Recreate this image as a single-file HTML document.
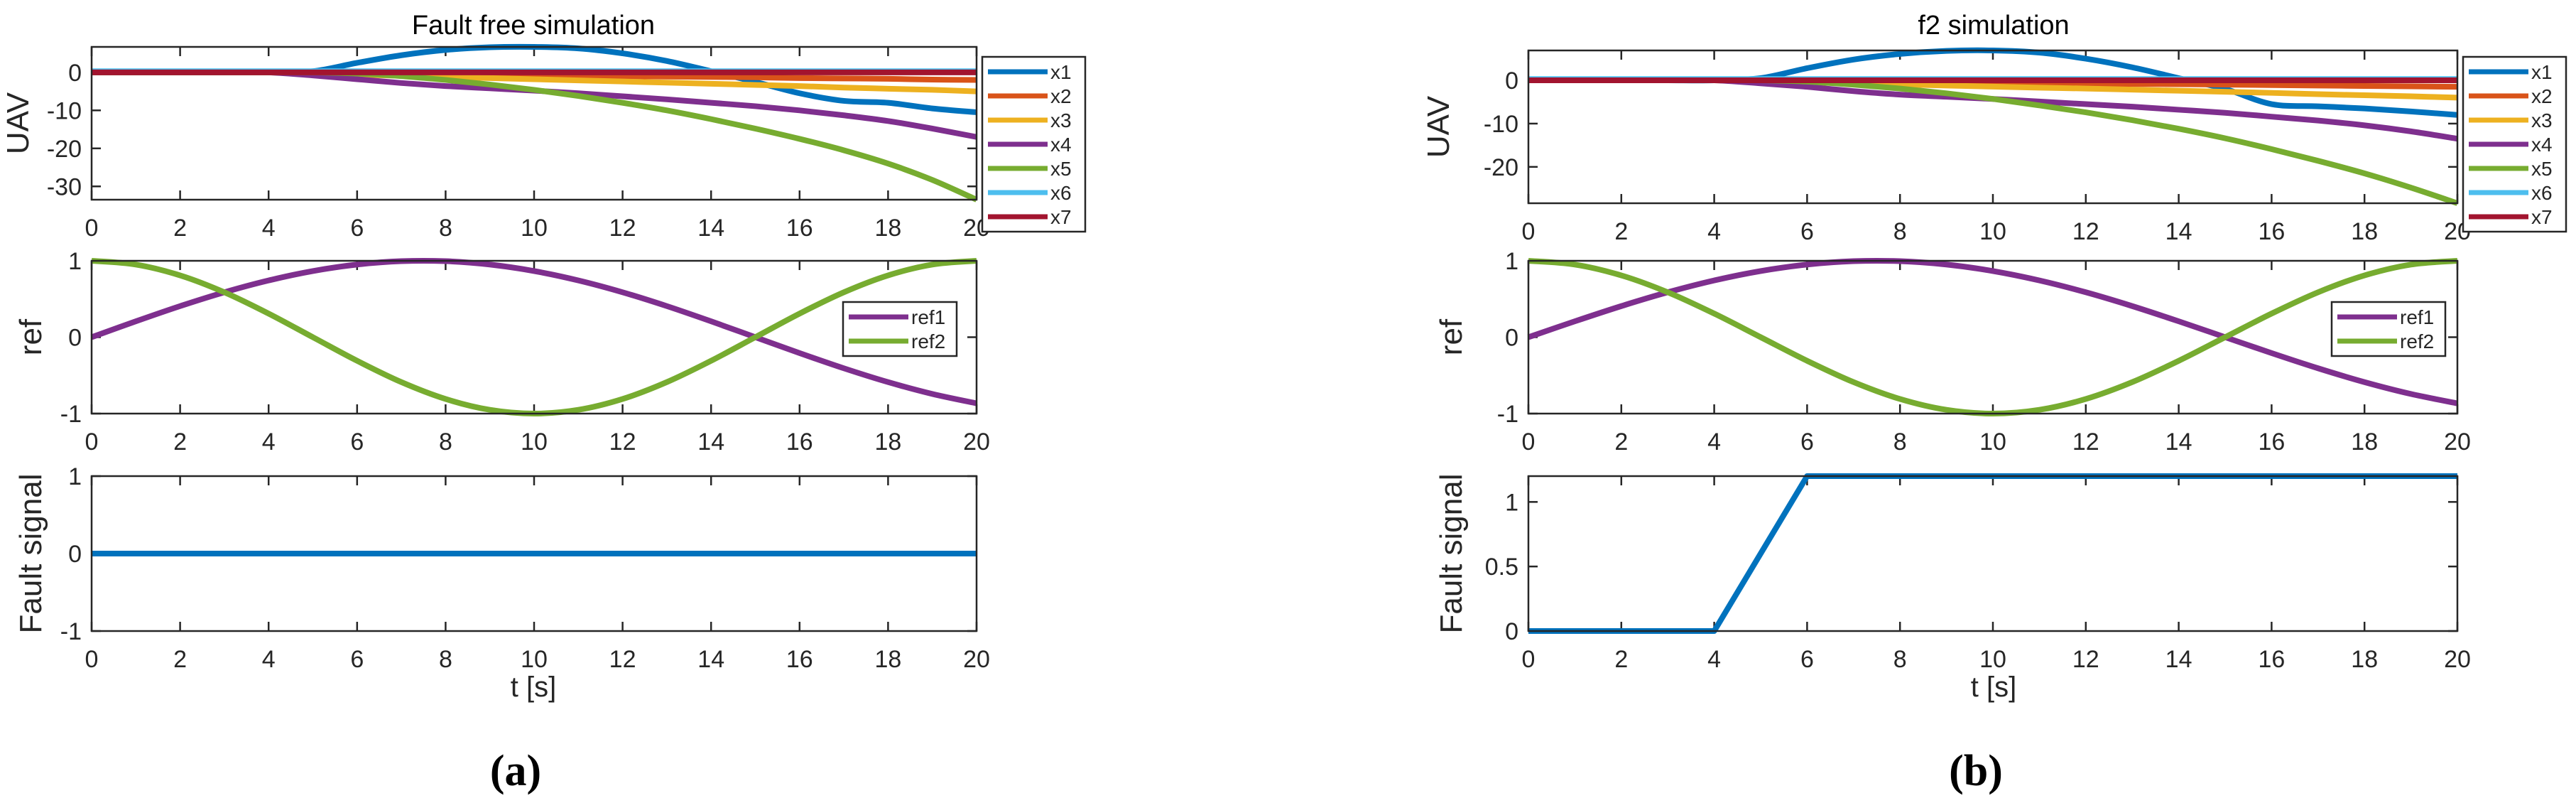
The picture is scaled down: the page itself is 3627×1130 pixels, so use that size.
<!DOCTYPE html>
<html><head><meta charset="utf-8"><style>
html,body{margin:0;padding:0;background:#fff;}
svg{display:block;font-family:"Liberation Sans",sans-serif;}
</style></head><body>
<svg id="fig" width="3627" height="1130" viewBox="0 0 3627 1130" xmlns="http://www.w3.org/2000/svg"></svg>
<script>
const T = [0,1,2,3,4,5,6,7,8,9,10,11,12,13,14,15,16,17,18,19,20];
const xTicks = [0,2,4,6,8,10,12,14,16,18,20];
const seriesNames = ['x1','x2','x3','x4','x5','x6','x7'];
const seriesColors = ['#0072BD','#D95319','#EDB120','#7E2F8E','#77AC30','#4DBEEE','#A2142F'];
const a_x1 = [0,0,0,0,0,0.3,2.5,4.5,5.9,6.6,6.7,6.3,5,3,0.3,-2.5,-5.5,-7.5,-8,-9.5,-10.5];
const a_x2 = [0,0,0,0,0,-0.2,-0.4,-0.5,-0.6,-0.7,-0.8,-0.9,-1,-1.1,-1.2,-1.3,-1.5,-1.6,-1.7,-1.9,-2];
const a_x3 = [0,0,0,0,0,-0.3,-0.6,-0.9,-1.2,-1.5,-1.8,-2.1,-2.4,-2.7,-3,-3.3,-3.6,-4,-4.3,-4.6,-5];
const a_x4 = [0,0,0,0,0,-0.8,-1.8,-2.8,-3.6,-4.2,-4.8,-5.5,-6.3,-7.1,-8,-8.9,-10,-11.3,-12.8,-14.8,-17];
const a_x5 = [0,0,0,0,0,0,-0.3,-1,-2,-3.2,-4.6,-6.2,-8,-10,-12.3,-14.8,-17.5,-20.5,-24,-28.3,-33.5];
const a_x6 = [0.3,0.3,0.3,0.3,0.3,0.3,0.3,0.3,0.3,0.3,0.3,0.3,0.3,0.3,0.3,0.3,0.3,0.3,0.3,0.3,0.3];
const a_x7 = [0,0,0,0,0,0,0,0,0,0,0,0,0,0,0,0,0,0,0,0,0];
const b_x1 = [0,0,0,0,0,0.5,2.8,4.8,6.1,6.8,6.9,6.4,5,3,0.5,-2,-5.5,-6,-6.5,-7.2,-8];
const b_x2 = [0,0,0,0,0,-0.15,-0.3,-0.4,-0.5,-0.55,-0.6,-0.7,-0.8,-0.85,-0.9,-1,-1.1,-1.2,-1.3,-1.4,-1.5];
const b_x3 = [0,0,0,0,0,-0.25,-0.5,-0.7,-0.95,-1.2,-1.45,-1.7,-1.9,-2.15,-2.4,-2.65,-2.9,-3.2,-3.45,-3.7,-4];
const b_x4 = [0,0,0,0,0,-0.7,-1.5,-2.5,-3.3,-3.8,-4.3,-4.9,-5.5,-6.1,-6.8,-7.5,-8.4,-9.3,-10.4,-11.8,-13.5];
const b_x5 = [0,0,0,0,0,0,-0.3,-1,-1.9,-3,-4.3,-5.8,-7.4,-9.2,-11.2,-13.4,-15.9,-18.6,-21.5,-24.8,-28.4];
const b_x6 = [0.3,0.3,0.3,0.3,0.3,0.3,0.3,0.3,0.3,0.3,0.3,0.3,0.3,0.3,0.3,0.3,0.3,0.3,0.3,0.3,0.3];
const b_x7 = [0,0,0,0,0,0,0,0,0,0,0,0,0,0,0,0,0,0,0,0,0];
const ref1 = [0,0.208,0.407,0.588,0.743,0.866,0.951,0.995,0.995,0.951,0.866,0.743,0.588,0.407,0.208,0,-0.208,-0.407,-0.588,-0.743,-0.866];
const ref2 = [1,0.951,0.809,0.588,0.309,0,-0.309,-0.588,-0.809,-0.951,-1,-0.951,-0.809,-0.588,-0.309,0,0.309,0.588,0.809,0.951,1];
const faultT = [0,4,6,20];
const faultA = [0,0,0,0];
const faultB = [0,0,1.2,1.2];
const uavTicksA = [0,-10,-20,-30];
const uavTicksB = [0,-10,-20];
const refTicks = [1,0,-1];
const faultTicksA = [1,0,-1];
const faultTicksB = [1,0.5,0];

const NS='http://www.w3.org/2000/svg';
const svg=document.getElementById('fig');
function el(tag,attrs,parent){const e=document.createElementNS(NS,tag);for(const k in attrs)e.setAttribute(k,attrs[k]);(parent||svg).appendChild(e);return e;}
function txt(s,attrs,parent){const e=el('text',attrs,parent);e.textContent=s;return e;}

function smoothPath(pts){
  if(pts.length<3){return 'M'+pts.map(p=>p.join(',')).join('L');}
  let d='M'+pts[0][0]+','+pts[0][1];
  for(let i=0;i<pts.length-1;i++){
    const p0=pts[Math.max(0,i-1)],p1=pts[i],p2=pts[i+1],p3=pts[Math.min(pts.length-1,i+2)];
    const c1=[p1[0]+(p2[0]-p0[0])/6,p1[1]+(p2[1]-p0[1])/6];
    const c2=[p2[0]-(p3[0]-p1[0])/6,p2[1]-(p3[1]-p1[1])/6];
    d+='C'+c1.join(',')+' '+c2.join(',')+' '+p2.join(',');
  }
  return d;
}

function axes(name,L,R,Tp,B,ymin,ymax,yticks,ylabel,ylabX){
  const g=el('g',{});
  
  
  const sx=v=>L+(v-0)/(20-0)*(R-L);
  const sy=v=>B-(v-ymin)/(ymax-ymin)*(B-Tp);
  xTicks.forEach(t=>{
    const x=sx(t);
    el('line',{x1:x,y1:B,x2:x,y2:B-13,stroke:'#262626','stroke-width':2.5},g);
    el('line',{x1:x,y1:Tp,x2:x,y2:Tp+13,stroke:'#262626','stroke-width':2.5},g);
    const lb=txt(String(t),{x:x,y:B+51,'font-size':34,'text-anchor':'middle',fill:'#262626'},g);
    
    
  });
  yticks.forEach(v=>{
    const y=sy(v);
    el('line',{x1:L,y1:y,x2:L+13,y2:y,stroke:'#262626','stroke-width':2.5},g);
    el('line',{x1:R,y1:y,x2:R-13,y2:y,stroke:'#262626','stroke-width':2.5},g);
    const lb=txt(String(v),{x:L-14,y:y+12,'font-size':34,'text-anchor':'end',fill:'#262626'},g);
    
    
  });
  const yl=txt(ylabel,{x:ylabX,y:(Tp+B)/2,'font-size':44,'text-anchor':'middle',fill:'#262626',transform:`rotate(-90 ${ylabX} ${(Tp+B)/2})`},g);
  
  
  return {g,sx,sy,L,R,Tp,B};
}
function frame(ax){
  el('rect',{x:ax.L,y:ax.Tp,width:ax.R-ax.L,height:ax.B-ax.Tp,fill:'none',stroke:'#262626','stroke-width':2.5},ax.g);
}
function series(ax,xs,ys,color,name,smooth){
  const pts=xs.map((t,i)=>[ax.sx(t),ax.sy(ys[i])]);
  const p=el('path',{d:smooth?smoothPath(pts):'M'+pts.map(q=>q.join(',')).join('L'),fill:'none',stroke:color,'stroke-width':8,'stroke-linejoin':'round'},ax.g);
  
  
}
function legend(name,x,y,w,rowH,names,colors,pad){
  const g=el('g',{});
  
  
  el('rect',{x:x,y:y,width:w,height:rowH*names.length+pad*2,fill:'#fff',stroke:'#262626','stroke-width':2.5},g);
  names.forEach((n,i)=>{
    const cy=y+pad+rowH*(i+0.5);
    el('line',{x1:x+8,y1:cy,x2:x+92,y2:cy,stroke:colors[i],'stroke-width':7},g);
    const t=txt(n,{x:x+96,y:cy+10,'font-size':28,fill:'#262626'},g);
    
    
  });
}

function panel(side,L,R,uavTB,uavRange,uavTicks,uavData,faultRange,faultTicks,faultData,titleStr,tag,titleX,legX,ylabX,refLegX){
  const ax1=axes(side+'-uav-axes',L,R,uavTB[0],uavTB[1],uavRange[0],uavRange[1],uavTicks,'UAV',ylabX);
  uavData.forEach((d,i)=>series(ax1,T,d,seriesColors[i],side+'-series-'+seriesNames[i],true));
  frame(ax1);
  legend(side+'-uav-legend',legX,80,145,34,seriesNames,seriesColors,4);
  const ax2=axes(side+'-ref-axes',L,R,367,582,-1,1,refTicks,'ref',ylabX+18);
  series(ax2,T,ref1,'#7E2F8E',side+'-ref1',true);
  series(ax2,T,ref2,'#77AC30',side+'-ref2',true);
  frame(ax2);
  legend(side+'-ref-legend',refLegX,425,160,34,['ref1','ref2'],['#7E2F8E','#77AC30'],4);
  const ax3=axes(side+'-fault-axes',L,R,670,888,faultRange[0],faultRange[1],faultTicks,'Fault signal',ylabX+18);
  series(ax3,faultT,faultData,'#0072BD',side+'-fault-signal',false);
  frame(ax3);
  const t1=txt(titleStr,{x:titleX,y:48,'font-size':38,'text-anchor':'middle',fill:'#000'});
  
  
  const t2=txt('t [s]',{x:titleX,y:980,'font-size':40,'text-anchor':'middle',fill:'#262626'});
  
  
  const t3=txt(tag,{x:titleX-25,y:1105,'font-size':62,'text-anchor':'middle',fill:'#000','font-family':'Liberation Serif, serif','font-weight':'bold'});
  
  
}

panel('a',129,1375,[66,281],[-33.5,6.7],uavTicksA,[a_x1,a_x2,a_x3,a_x4,a_x5,a_x6,a_x7],[-1,1],faultTicksA,faultA,'Fault free simulation','(a)',751,1383,40,1187);
panel('b',2152,3460,[71,286],[-28.4,6.9],uavTicksB,[b_x1,b_x2,b_x3,b_x4,b_x5,b_x6,b_x7],[0,1.2],faultTicksB,faultB,'f2 simulation','(b)',2807,3468,2040,3283);
</script>
</body></html>
